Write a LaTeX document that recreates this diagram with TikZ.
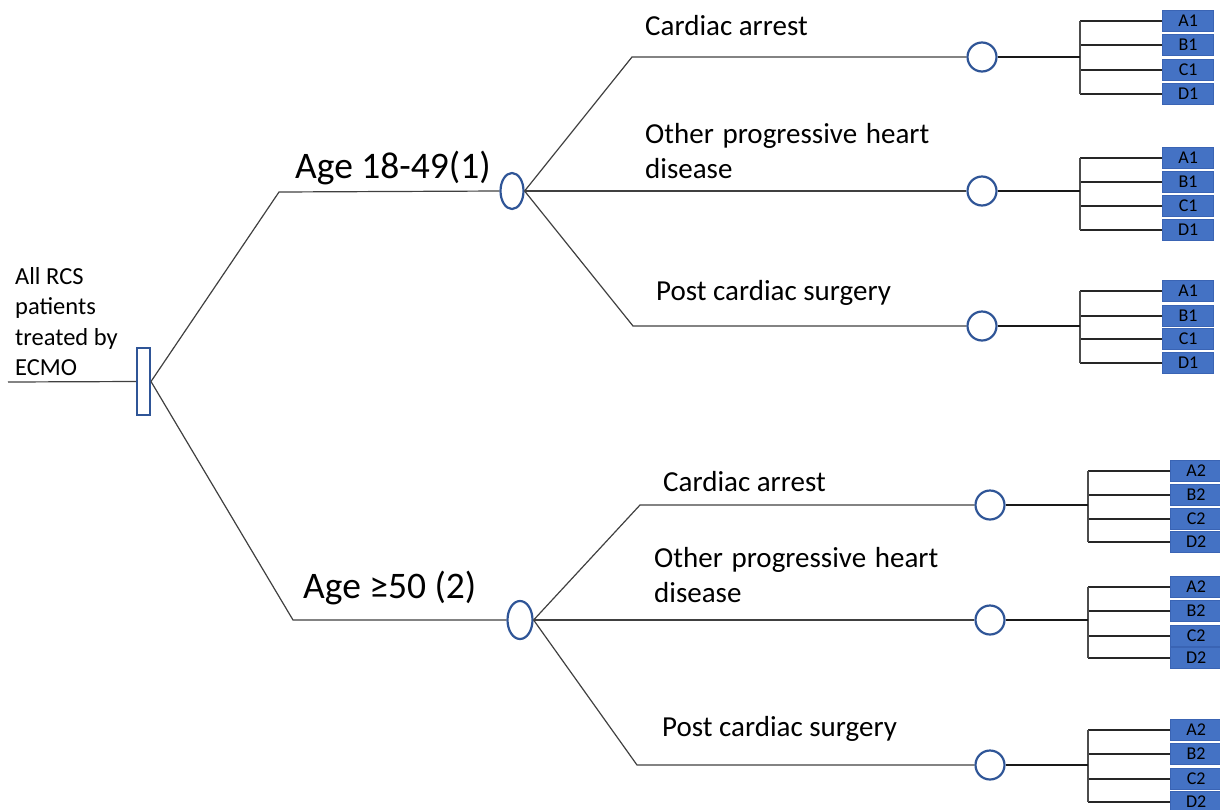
\documentclass[tikz,border=0pt]{standalone}
\usepackage{fontspec}
\setmainfont{Carlito}
\usetikzlibrary{shapes.geometric}
\definecolor{nodeblue}{HTML}{2F5597}
\definecolor{boxblue}{HTML}{4472C4}
\definecolor{boxedge}{HTML}{3A64B4}
\definecolor{linegray}{HTML}{404040}
\newcommand{\fsz}[2]{\fontsize{#1}{#2}\selectfont}
\newcommand{\leafset}[9]{%
  \coordinate (#1x) at (#3,0);
  \coordinate (#1j) at (#2 -| #1x);
  \foreach \leafL/\leafY in {A/#6,B/#7,C/#8,D/#9}{
    \node[leafbox] (#1\leafL) at (#4,\leafY) {\leafL#5};
    \coordinate (#1\leafL J) at (#1\leafL.west -| #1x);
    \draw[branch] (#1\leafL J) -- (#1\leafL.west);
  }
  \draw[bus] (#1AJ) -- (#1DJ);
  \draw[stem] (#2.east) -- (#1j);
}
\begin{document}
\begin{tikzpicture}[x=1pt,y=-1pt,
  treeline/.style={draw=linegray,line width=1.2pt},
  branch/.style={draw=black!85,line width=1.2pt},
  bus/.style={draw=black!70,line width=1.6pt},
  stem/.style={draw=black!90,line width=1.8pt},
  rootbox/.style={rectangle,draw=nodeblue,line width=2pt,fill=white,minimum width=13pt,minimum height=67pt,inner sep=0pt},
  decision/.style={ellipse,draw=nodeblue,line width=2.2pt,fill=white,inner sep=0pt},
  chance/.style={ellipse,draw=nodeblue,line width=2.2pt,fill=white,inner sep=0pt,minimum width=29pt,minimum height=29pt},
  leafbox/.style={rectangle,anchor=west,fill=boxblue,draw=boxedge,line width=1.2pt,minimum width=51pt,minimum height=21pt,inner sep=0pt,font=\fsz{18}{18}},
  label/.style={anchor=base west,inner sep=0pt,font=\fsz{29}{35}},
  agelabel/.style={anchor=base west,inner sep=0pt,font=\fsz{37.5}{40}},
  roottext/.style={anchor=base west,inner sep=0pt,font=\fsz{24.5}{30.5}}
]
\useasboundingbox (0,0) rectangle (1220,809);

% root
\node[rootbox] (root) at (143.5,381.5) {};
\coordinate (start) at (8,382);
\draw[treeline] (start) -- (root.west);
\node[roottext] (roottxt) at (15,284) {\vtop{\hbox{All RCS}\hbox{patients}\hbox{treated by}\hbox{ECMO}}};

% age decision nodes
\node[decision,minimum width=23pt,minimum height=36pt] (e1) at (512,191) {};
\node[decision,minimum width=25pt,minimum height=38pt] (e2) at (520,620) {};
\coordinate (k1) at (279,192);
\coordinate (k2) at (293,620);
\draw[treeline] (root.east) -- (k1) -- (e1.west);
\draw[treeline] (root.east) -- (k2) -- (e2.west);
\node[agelabel] (age1) at (295,178) {Age 18-49(1)};
\node[agelabel] (age2) at (303,598) {Age ≥50 (2)};

% chance nodes
\node[chance] (c11) at (982,57) {};
\node[chance] (c12) at (982,191) {};
\node[chance] (c13) at (982,326) {};
\node[chance] (c21) at (990,505) {};
\node[chance] (c22) at (990,620) {};
\node[chance] (c23) at (990,765) {};

\coordinate (b11) at (632,57);
\coordinate (b13) at (633,326);
\coordinate (b21) at (640,505);
\coordinate (b23) at (637,765);
\draw[treeline] (e1.east) -- (b11) -- (c11.west);
\draw[treeline] (e1.east) -- (c12.west);
\draw[treeline] (e1.east) -- (b13) -- (c13.west);
\draw[treeline] (e2.east) -- (b21) -- (c21.west);
\draw[treeline] (e2.east) -- (c22.west);
\draw[treeline] (e2.east) -- (b23) -- (c23.west);

% branch labels
\node[label] (l11) at (645,35) {Cardiac arrest};
\node[label] (l12) at (645,143) {\vtop{\hbox{Other\hspace{0.3em}progressive\hspace{0.3em}heart}\hbox{disease}}};
\node[label] (l13) at (656,300) {Post cardiac surgery};
\node[label] (l21) at (663,491) {Cardiac arrest};
\node[label] (l22) at (654,567) {\vtop{\hbox{Other\hspace{0.3em}progressive\hspace{0.3em}heart}\hbox{disease}}};
\node[label] (l23) at (662,736) {Post cardiac surgery};

% leaf sets
\leafset{g11}{c11}{1080}{1162}{1}{21}{45}{70}{94}
\leafset{g12}{c12}{1080}{1162}{1}{158}{182}{206}{230}
\leafset{g13}{c13}{1080}{1162}{1}{291}{316}{339}{363}
\leafset{g21}{c21}{1088}{1170}{2}{471}{495}{519}{542}
\leafset{g22}{c22}{1088}{1170}{2}{587}{611}{636}{658}
\leafset{g23}{c23}{1088}{1170}{2}{730}{754}{779}{802}
\end{tikzpicture}
\end{document}
